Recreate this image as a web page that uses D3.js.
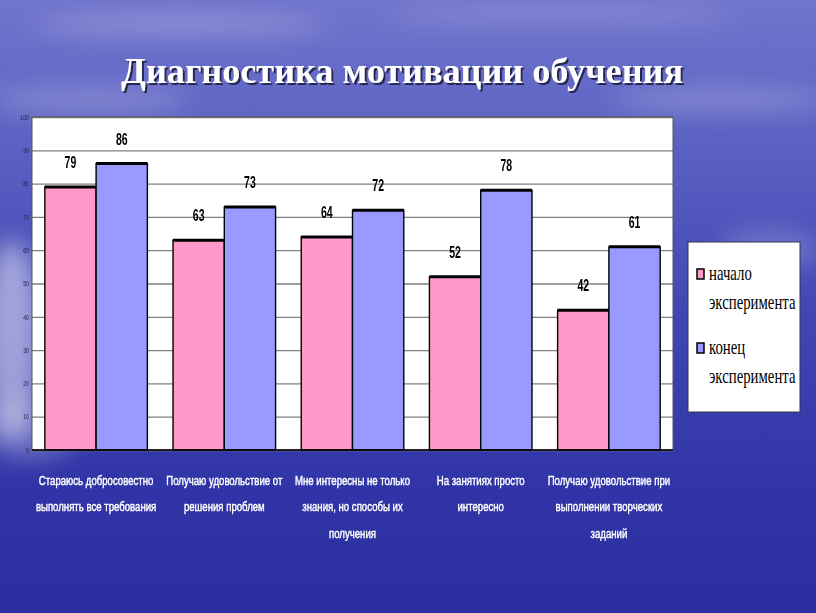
<!DOCTYPE html>
<html>
<head>
<meta charset="utf-8">
<script src="https://cdn.jsdelivr.net/npm/d3@7"></script>
<style>
  html, body { margin: 0; padding: 0; background: #3a3fb0; }
  svg { display: block; }
</style>
</head>
<body>
<div id="chart"></div>
<script>
// chart data
const categories = [
  ["Стараюсь добросовестно", "выполнять все требования"],
  ["Получаю удовольствие от", "решения проблем"],
  ["Мне интересны не только", "знания, но способы их", "получения"],
  ["На занятиях просто", "интересно"],
  ["Получаю удовольствие при", "выполнении творческих", "заданий"]
];
const startValues = [79, 63, 64, 52, 42];   // начало эксперимента
const endValues = [86, 73, 72, 78, 61];     // конец эксперимента
const seriesNames = [["начало", "эксперимента"], ["конец", "эксперимента"]];
const yTicks = [0, 10, 20, 30, 40, 50, 60, 70, 80, 90, 100];
const title = "Диагностика мотивации обучения";

const width = 816, height = 613;
const plot = { left: 32, right: 673, top: 117, bottom: 450 };
const colors = ["#ff99cc", "#9999ff"];
const narrow = "'Liberation Sans', Arial, sans-serif"; // squeezed with scale()

const svg = d3.select("#chart").append("svg")
    .attr("width", width)
    .attr("height", height)
    .attr("viewBox", [0, 0, width, height]);

// background, sky + sea
const defs = svg.append("defs");
const bg = defs.append("linearGradient")
    .attr("id", "bg").attr("x1", 0).attr("y1", 0).attr("x2", 0).attr("y2", 1);
[[0, "#6f74cc"], [0.2, "#5f65c4"], [0.5, "#4247b5"], [0.8, "#3034a6"], [1, "#2a2e9e"]]
  .forEach(([o, c]) => bg.append("stop").attr("offset", o).attr("stop-color", c));

const blur = defs.append("filter").attr("id", "blur")
    .attr("x", "-50%").attr("y", "-50%").attr("width", "200%").attr("height", "200%");
blur.append("feGaussianBlur").attr("stdDeviation", 12);

const shadow = defs.append("filter").attr("id", "shadow");
shadow.append("feDropShadow").attr("dx", 2).attr("dy", 2)
    .attr("stdDeviation", 0.6).attr("flood-color", "#1a1a40").attr("flood-opacity", 0.9);

svg.append("rect").attr("width", width).attr("height", height).attr("fill", "url(#bg)");

// cloud streaks and glare
const glow = svg.append("g").attr("filter", "url(#blur)");
[
  [180, 25, 150, 10, 0.25], [560, 15, 180, 8, 0.2], [720, 100, 110, 10, 0.25],
  [90, 100, 100, 14, 0.2], [12, 340, 30, 100, 0.5], [30, 430, 50, 30, 0.25],
  [770, 250, 50, 20, 0.2]
].forEach(([cx, cy, rx, ry, op]) => glow.append("ellipse")
    .attr("cx", cx).attr("cy", cy).attr("rx", rx).attr("ry", ry)
    .attr("fill", "#ffffff").attr("opacity", op));

// title
svg.append("text")
    .attr("x", 402).attr("y", 83)
    .attr("text-anchor", "middle")
    .attr("font-family", "'Liberation Serif', 'Times New Roman', serif")
    .attr("font-weight", "bold")
    .attr("font-size", 35)
    .attr("textLength", 562)
    .attr("lengthAdjust", "spacingAndGlyphs")
    .attr("fill", "#ffffff")
    .attr("filter", "url(#shadow)")
    .text(title);

// scales
const x0 = d3.scaleBand()
    .domain(d3.range(categories.length))
    .range([plot.left, plot.right])
    .paddingInner(0.2)
    .paddingOuter(0.1);
const x1 = d3.scaleBand()
    .domain([0, 1])
    .range([0, x0.bandwidth()]);
const y = d3.scaleLinear()
    .domain([0, 100])
    .range([plot.bottom, plot.top]);

// plot area
svg.append("rect")
    .attr("x", plot.left).attr("y", plot.top)
    .attr("width", plot.right - plot.left).attr("height", plot.bottom - plot.top)
    .attr("fill", "#ffffff");

// gridlines + y axis
const yAxis = d3.axisLeft(y)
    .tickValues(yTicks)
    .tickSize(-(plot.right - plot.left))
    .tickPadding(5);
svg.append("g")
    .attr("transform", `translate(${plot.left},0)`)
    .call(yAxis)
    .call(g => g.select(".domain").remove())
    .call(g => g.selectAll(".tick line").attr("stroke", "#808080").attr("stroke-width", 1.3))
    .call(g => g.selectAll(".tick text")
      .attr("font-family", narrow)
      .attr("font-size", 7)
      .attr("x", -4)
      .attr("transform", "scale(0.75,1)")
      .attr("fill", "#222244"));

svg.append("rect")
    .attr("x", plot.left).attr("y", plot.top)
    .attr("width", plot.right - plot.left).attr("height", plot.bottom - plot.top)
    .attr("fill", "none").attr("stroke", "#555555").attr("stroke-width", 1);

// bars
const rows = categories.map((c, i) => [startValues[i], endValues[i]]);
const groups = svg.append("g").selectAll("g")
  .data(rows)
  .join("g")
    .attr("transform", (d, i) => `translate(${x0(i)},0)`);

const bars = groups.selectAll("g")
  .data(d => d.map((v, k) => ({ v, k })))
  .join("g");

bars.append("rect")
    .attr("x", d => x1(d.k))
    .attr("y", d => y(d.v))
    .attr("width", x1.bandwidth())
    .attr("height", d => y(0) - y(d.v))
    .attr("fill", d => colors[d.k])
    .attr("stroke", "#000000")
    .attr("stroke-width", 1.4);

bars.append("line")
    .attr("x1", d => x1(d.k))
    .attr("x2", d => x1(d.k) + x1.bandwidth())
    .attr("y1", d => y(d.v))
    .attr("y2", d => y(d.v))
    .attr("stroke", "#000000")
    .attr("stroke-width", 3);

bars.append("text")
    .attr("transform", d => `translate(${x1(d.k) + x1.bandwidth() / 2},${y(d.v) - 19}) scale(0.62,1)`)
    .attr("text-anchor", "middle")
    .attr("font-family", narrow)
    .attr("font-weight", "bold")
    .attr("font-size", 17)
    .attr("fill", "#000000")
    .text(d => d.v);

// bottom base line
svg.append("line")
    .attr("x1", plot.left).attr("x2", plot.right)
    .attr("y1", plot.bottom).attr("y2", plot.bottom)
    .attr("stroke", "#000000").attr("stroke-width", 1.5);

// category labels
svg.append("g").selectAll("text")
  .data(categories)
  .join("text")
    .attr("transform", (d, i) => `translate(${x0(i) + x0.bandwidth() / 2},485) scale(0.74,1)`)
    .attr("text-anchor", "middle")
    .attr("font-family", narrow)
    .attr("font-size", 13)
    .attr("fill", "#ffffff")
    .attr("stroke", "#ffffff")
    .attr("stroke-width", 0.45)
    .selectAll("tspan")
    .data(d => d)
    .join("tspan")
      .attr("x", 0)
      .attr("dy", (d, j) => j === 0 ? 0 : 26.5)
      .text(d => d);

// legend
const legend = svg.append("g").attr("transform", "translate(688,242)");
legend.append("rect")
    .attr("width", 112).attr("height", 170)
    .attr("fill", "#ffffff")
    .attr("stroke", "#333355").attr("stroke-width", 1);

const items = legend.selectAll("g")
  .data(seriesNames)
  .join("g")
    .attr("transform", (d, i) => `translate(0,${i * 74})`);

items.append("rect")
    .attr("x", 9).attr("y", 27)
    .attr("width", 7).attr("height", 10)
    .attr("fill", (d, i) => colors[i])
    .attr("stroke", "#000000").attr("stroke-width", 1.5);

items.selectAll("text")
  .data(d => d)
  .join("text")
    .attr("transform", (d, j) => `translate(21,${38 + j * 29}) scale(0.74,1)`)
    .attr("font-family", "'Liberation Serif', 'Times New Roman', serif")
    .attr("font-size", 20)
    .attr("fill", "#000000")
    .text(d => d);
</script>
</body>
</html>
